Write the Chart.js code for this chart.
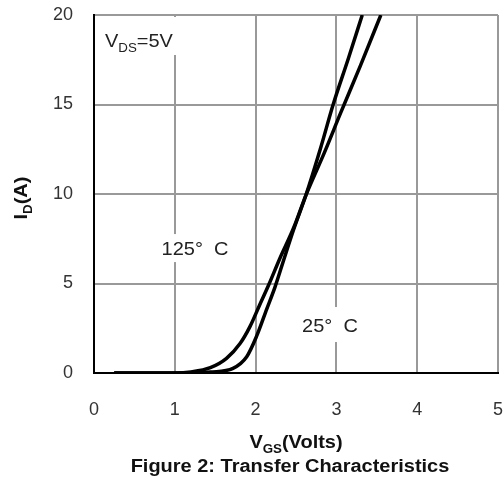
<!DOCTYPE html>
<html>
<head>
<meta charset="utf-8">
<script src="https://cdn.jsdelivr.net/npm/chart.js@4.4.0/dist/chart.umd.min.js"></script>
<style>
  html, body { margin: 0; background: #fff; }
  canvas { display: block; }
</style>
</head>
<body>
<canvas id="transfer" width="504" height="480"></canvas>
<script>
/* ── Data (ID vs VGS, VDS = 5V) ── */
const vgs125 = [0.25, 1.0, 1.2, 1.44, 1.64, 1.81, 1.93, 2.05, 2.16, 2.30, 2.47, 2.62, 2.85, 3.05, 3.30, 3.55];
const id125  = [0, 0, 0.06, 0.3, 0.82, 1.66, 2.59, 3.8, 4.9, 6.4, 8.1, 9.9, 12.3, 14.5, 17.2, 20];
const vgs25  = [0.25, 1.0, 1.3, 1.44, 1.72, 1.89, 2.01, 2.14, 2.24, 2.34, 2.47, 2.62, 2.80, 2.96, 3.15, 3.32];
const id25   = [0, 0, 0.01, 0.05, 0.26, 0.91, 2.03, 3.6, 4.8, 6.2, 8.0, 9.9, 12.5, 15.0, 17.6, 20];

const xRange = [0, 5];
const yRange = [0, 20];

const FONT = "'Liberation Sans', Arial, Helvetica, sans-serif";
const STRETCH = 1.11;   // the scanned figure's type is a little wide

/* ── Text with subscripts, drawn left to right ── */
function drawParts(ctx, parts, x, y, size, bold, align) {
  const w8   = bold ? 'bold ' : '';
  const main = w8 + size + 'px ' + FONT;
  const sub  = w8 + Math.round(size * 0.66) + 'px ' + FONT;
  let w = 0;
  parts.forEach(p => { ctx.font = p.sub ? sub : main; w += ctx.measureText(p.t).width; });
  ctx.save();
  ctx.translate(x, y);
  ctx.scale(STRETCH, 1);
  let cx = align === 'center' ? -w / 2 : 0;
  ctx.textAlign = 'left';
  ctx.textBaseline = 'alphabetic';
  parts.forEach(p => {
    ctx.font = p.sub ? sub : main;
    ctx.fillText(p.t, cx, p.sub ? size * 0.28 : 0);
    cx += ctx.measureText(p.t).width;
  });
  ctx.restore();
}

/* ── Labels in the plot + axis titles ── */
const notes = {
  id: 'notes',
  beforeDatasetsDraw(chart) {
    const { ctx, scales: { x, y } } = chart;
    ctx.save();
    ctx.fillStyle = '#fff';
    // white boxes behind the in-plot labels (they break the grid)
    ctx.fillRect(x.getPixelForValue(0) + 2, y.getPixelForValue(20) + 2, 84, 38);
    ctx.fillRect(x.getPixelForValue(1.25) - 36, y.getPixelForValue(6.98) - 14, 72, 28);
    ctx.fillRect(x.getPixelForValue(2.92) - 32, y.getPixelForValue(2.68) - 18, 64, 35);

    ctx.fillStyle = '#222';
    drawParts(ctx, [{ t: 'V' }, { t: 'DS', sub: true }, { t: '=5V' }],
      x.getPixelForValue(0) + 11, y.getPixelForValue(20) + 32, 18, false, 'left');
    drawParts(ctx, [{ t: '125°  C' }], x.getPixelForValue(1.25), y.getPixelForValue(6.98) + 7, 18, false, 'center');
    drawParts(ctx, [{ t: '25°  C' }], x.getPixelForValue(2.92), y.getPixelForValue(2.68) + 7, 18, false, 'center');
    ctx.restore();
  },
  afterDraw(chart) {
    const { ctx, chartArea } = chart;
    const mid = (chartArea.left + chartArea.right) / 2;
    ctx.save();
    ctx.fillStyle = '#111';
    drawParts(ctx, [{ t: 'V' }, { t: 'GS', sub: true }, { t: '(Volts)' }], mid, 448, 18, true, 'center');
    drawParts(ctx, [{ t: 'Figure 2: Transfer Characteristics' }], mid - 6, 472, 18, true, 'center');

    ctx.translate(27, 198);
    ctx.rotate(-Math.PI / 2);
    drawParts(ctx, [{ t: 'I' }, { t: 'D', sub: true }, { t: '(A)' }], 0, 0, 18, true, 'center');
    ctx.restore();
  }
};

function curve(vs, is) {
  return vs.map((v, i) => ({ x: v, y: is[i] }));
}

const tickFont = { family: FONT, size: 18 };

new Chart(document.getElementById('transfer'), {
  type: 'scatter',
  data: {
    datasets: [
      {
        label: '125° C',
        data: curve(vgs125, id125),
        showLine: true,
        borderColor: '#000',
        borderWidth: 3.5,
        pointRadius: 0,
        cubicInterpolationMode: 'monotone',
      },
      {
        label: '25° C',
        data: curve(vgs25, id25),
        showLine: true,
        borderColor: '#000',
        borderWidth: 3.5,
        pointRadius: 0,
        cubicInterpolationMode: 'monotone',
      }
    ]
  },
  options: {
    responsive: false,
    animation: false,
    layout: { padding: { top: 15, right: 6, left: 0, bottom: 0 } },
    plugins: { legend: { display: false }, tooltip: { enabled: false } },
    scales: {
      x: {
        type: 'linear',
        min: xRange[0], max: xRange[1],
        ticks: { stepSize: 1, padding: 26, color: '#333', font: tickFont },
        grid:  { color: '#999', lineWidth: 2, drawTicks: false },
        border: { color: '#000', width: 2 },
        // fixed height, and no extra room for the end labels
        afterFit(s) { s.height = 107; s.paddingLeft = 0; s.paddingRight = 0; }
      },
      y: {
        min: yRange[0], max: yRange[1],
        ticks: { stepSize: 5, padding: 21, color: '#333', font: tickFont },
        grid:  { color: '#999', lineWidth: 2, drawTicks: false },
        border: { color: '#000', width: 2 },
        afterFit(s) { s.width = 94; s.paddingTop = 0; s.paddingBottom = 0; }
      }
    }
  },
  plugins: [notes]
});
</script>
</body>
</html>
